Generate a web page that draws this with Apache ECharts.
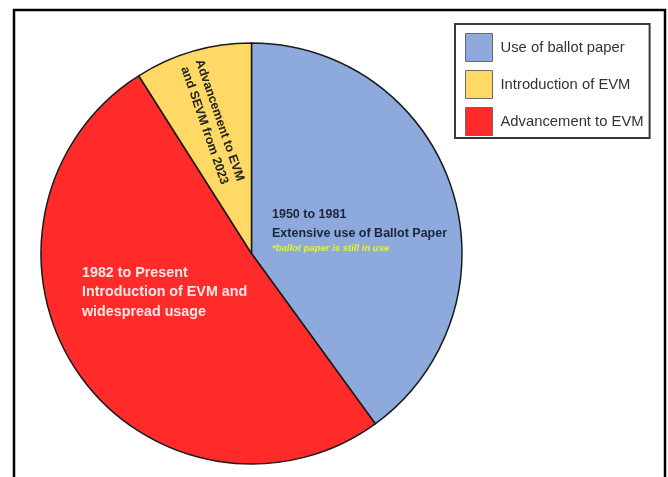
<!DOCTYPE html>
<html>
<head>
<meta charset="utf-8">
<script src="https://cdn.jsdelivr.net/npm/echarts@6/dist/echarts.min.js"></script>
<style>
html,body{margin:0;padding:0;background:#fff;}
#chart{width:668px;height:477px;}
</style>
</head>
<body>
<div id="chart"></div>
<script>
// Data
const categories = ['Use of ballot paper', 'Advancement to EVM', 'Introduction of EVM'];
const values = [40, 51, 9];
const colors = ['#8EA9DB', '#FF2B2B', '#FFD966'];
const legendOrder = ['Use of ballot paper', 'Introduction of EVM', 'Advancement to EVM'];
const blueLabel = ['1950 to 1981', 'Extensive use of Ballot Paper', '*ballot paper is still in use'];
const redLabel = ['1982 to Present', 'Introduction of EVM and', 'widespread usage'];
const yellowLabel = ['Advancement to EVM', 'and SEVM from 2023'];

const FONT = '"Liberation Sans", Arial, sans-serif';

const chart = echarts.init(document.getElementById('chart'), null, {renderer: 'canvas'});

function fmt(p) {
  if (p.dataIndex === 0) {
    return '{b|' + blueLabel[0] + '}\n{b|' + blueLabel[1] + '}\n{n|' + blueLabel[2] + '}';
  } else if (p.dataIndex === 1) {
    return redLabel.map(s => '{r|' + s + '}').join('\n');
  }
  return yellowLabel.map(s => '{y|' + s + '}').join('\n');
}

const layouts = [
  {x: 272, y: 205.5, align: 'left', verticalAlign: 'top'},
  {x: 82, y: 263, align: 'left', verticalAlign: 'top'},
  {x: 212, y: 123, align: 'center', verticalAlign: 'middle', rotate: -71}
];

const option = {
  animation: false,
  backgroundColor: '#ffffff',
  graphic: [{
    type: 'rect',
    shape: {x: 14, y: 10, width: 651, height: 490},
    style: {fill: 'none', stroke: '#000', lineWidth: 2.5},
    silent: true
  }],
  legend: {
    data: legendOrder,
    orient: 'vertical',
    left: 455,
    top: 24,
    padding: [9, 6, 2, 10],
    itemGap: 8,
    itemWidth: 27,
    itemHeight: 28,
    icon: 'rect',
    borderColor: '#3a3a3a',
    borderWidth: 2,
    itemStyle: {borderColor: '#6a6a6a', borderWidth: 1},
    textStyle: {fontFamily: FONT, fontSize: 14.8, color: '#333', padding: [0, 0, 0, 3]},
    selectedMode: false
  },
  series: [{
    type: 'pie',
    center: [251.5, 253.5],
    radius: 210.5,
    startAngle: 90,
    clockwise: true,
    silent: true,
    emphasis: {disabled: true},
    itemStyle: {borderColor: '#1a1a1a', borderWidth: 1.5},
    data: categories.map((c, i) => ({name: c, value: values[i], itemStyle: {color: colors[i]}})),
    label: {
      show: true,
      position: 'inside',
      formatter: fmt,
      rich: {
        b: {fontFamily: FONT, fontWeight: 'bold', fontSize: 12.5, color: '#1c2540', lineHeight: 19},
        n: {fontFamily: FONT, fontWeight: 'bold', fontStyle: 'italic', fontSize: 9.5, color: '#E6F03C', lineHeight: 10},
        r: {fontFamily: FONT, fontWeight: 'bold', fontSize: 14.3, color: '#FFE6E6', lineHeight: 19.5},
        y: {fontFamily: FONT, fontWeight: 'bold', fontSize: 12.5, color: '#222', lineHeight: 16}
      }
    },
    labelLine: {show: false},
    labelLayout: function (p) {
      return layouts[p.dataIndex];
    }
  }]
};
chart.setOption(option);
</script>
</body>
</html>
